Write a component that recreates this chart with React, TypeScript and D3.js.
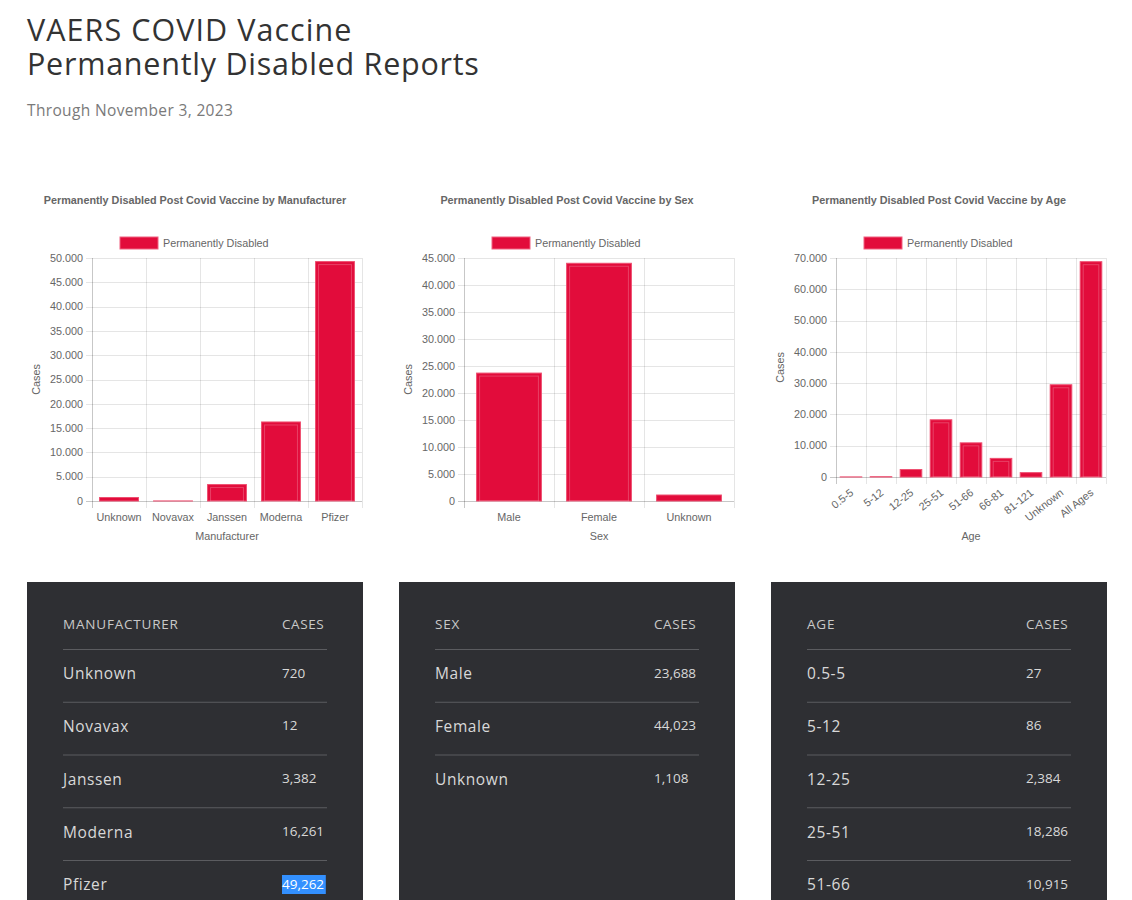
import React from 'react'
import * as d3 from 'd3'

// values
const manufacturers = ['Unknown', 'Novavax', 'Janssen', 'Moderna', 'Pfizer']
const manufacturerCases = [720, 12, 3382, 16261, 49262]

const sexes = ['Male', 'Female', 'Unknown']
const sexCases = [23688, 44023, 1108]

const ageGroups = ['0.5-5', '5-12', '12-25', '25-51', '51-66', '66-81', '81-121', 'Unknown', 'All Ages']
const ageCases = [27, 86, 2384, 18286, 10915, 5950, 1390, 29480, 68819]

const seriesName = 'Permanently Disabled'

const W = 1132
const H = 900

const chartFont = '"Liberation Sans", Arial, sans-serif'
const pageFont = '"Open Sans", "Noto Sans", sans-serif'
const gridColor = 'rgba(0,0,0,0.1)'
const barColor = '#e20c3b'

const dotLocale = d3.formatLocale({ decimal: ',', thousands: '.', grouping: [3], currency: ['', ''] })
const tickFmt = dotLocale.format(',d')
const tableFmt = d3.format(',d')

type ChartProps = {
  title: string;
  xTitle: string;
  categories: string[];
  values: number[];
  panelX: number;
  x0: number;
  x1: number;
  y0: number;
  y1: number;
  tickCount: number;
  rotate?: boolean;
}

const panelW = 336

const BarChart = ({ title, xTitle, categories, values, panelX, x0, x1, y0, y1, tickCount, rotate }: ChartProps) => {
  const x = d3.scaleBand().domain(categories).range([x0, x1]).paddingInner(0).paddingOuter(0)
  const y = d3.scaleLinear().domain([0, d3.max(values) as number]).nice(tickCount).range([y1, y0])
  const ticks = y.ticks(tickCount)
  const cx = panelX + panelW / 2
  const bw = x.bandwidth() * 0.72
  const bounds = categories.map((c) => x(c) as number).concat([x1])

  return (
    <g fontFamily={chartFont}>
      <text x={cx} y={204} textAnchor='middle' fontSize={10.8} fontWeight='bold' fill='#666'>{title}</text>

      {/* legend */}
      <rect x={cx - 75} y={237} width={38} height={12} fill={barColor} stroke='#f06080' strokeWidth={1} />
      <text x={cx - 32} y={247} fontSize={10.8} fill='#666'>{seriesName}</text>

      {/* horizontal grid */}
      {ticks.map((t) => (
        <g key={`h${t}`}>
          <line x1={x0 - 6} x2={x1} y1={Math.round(y(t)) + 0.5} y2={Math.round(y(t)) + 0.5}
            stroke={t === 0 ? 'rgba(0,0,0,0.22)' : gridColor} />
          <text x={x0 - 9} y={y(t)} dy='0.35em' textAnchor='end' fontSize={10.8} fill='#666'>{tickFmt(t)}</text>
        </g>
      ))}

      {/* vertical grid */}
      {bounds.map((b, i) => (
        <line key={`v${i}`} x1={Math.round(b) + 0.5} x2={Math.round(b) + 0.5} y1={y0} y2={y1 + 7}
          stroke={i === 0 ? 'rgba(0,0,0,0.22)' : gridColor} />
      ))}

      {/* bars */}
      {categories.map((c, i) => {
        const bx = (x(c) as number) + (x.bandwidth() - bw) / 2
        const by = y(values[i])
        const bh = y1 - by
        return (
          <g key={c}>
            <rect x={bx} y={by} width={bw} height={bh} fill={barColor} stroke='#ee4f70' strokeWidth={1} />
            {bh > 8 && (
              <rect x={bx + 3} y={by + 3} width={bw - 6} height={bh - 3} fill='none'
                stroke='rgba(255,255,255,0.22)' strokeWidth={1} />
            )}
          </g>
        )
      })}

      {/* category labels */}
      {categories.map((c) => {
        const mx = (x(c) as number) + x.bandwidth() / 2
        return rotate
          ? (
            <text key={`l${c}`} transform={`translate(${mx + 1}, ${y1 + 14}) rotate(-38)`} textAnchor='end'
              dy='0.35em' fontSize={10.8} fill='#666'>{c}</text>
            )
          : (
            <text key={`l${c}`} x={mx} y={y1 + 20} textAnchor='middle' fontSize={10.8} fill='#666'>{c}</text>
            )
      })}

      <text x={(x0 + x1) / 2} y={540} textAnchor='middle' fontSize={10.8} fill='#666'>{xTitle}</text>
      <text transform={`translate(${x0 - 52}, ${(y0 + y1) / 2}) rotate(-90)`} textAnchor='middle'
        fontSize={10.8} fill='#666'>Cases</text>
    </g>
  )
}

type TableProps = {
  left: number;
  header: string;
  labels: string[];
  values: number[];
  highlight?: number;
}

const rowGap = 52.75

const DataTable = ({ left, header, labels, values, highlight }: TableProps) => {
  const tx = left + 36
  const nx = left + 255
  const right = left + 300
  return (
    <g fontFamily={pageFont}>
      <rect x={left} y={582} width={panelW} height={H - 582} fill='#2e2f33' />
      <text x={tx} y={629} fontSize={13.5} letterSpacing={0.8} fill='#c9c9c9'>{header}</text>
      <text x={nx} y={629} fontSize={13.5} letterSpacing={0.6} fill='#c9c9c9'>CASES</text>
      {labels.map((l, i) => {
        const lineY = 649.5 + i * rowGap
        const cy = 674 + i * rowGap
        const label = tableFmt(values[i])
        return (
          <g key={l}>
            <line x1={tx} x2={right} y1={lineY} y2={lineY} stroke='#5b5c60' />
            {highlight === i && (
              <rect x={nx} y={cy - 10} width={label.length * 7.3} height={19} fill='#3390ff' />
            )}
            <text x={tx} y={cy} dy='0.35em' fontSize={15.5} letterSpacing={0.6} fill='#d8d8d8'>{l}</text>
            <text x={nx} y={cy - 1} dy='0.35em' fontSize={13.5} fill={highlight === i ? '#fff' : '#d8d8d8'}>{label}</text>
          </g>
        )
      })}
    </g>
  )
}

const App = () => {
  return (
    <svg width={W} height={H} viewBox={`0 0 ${W} ${H}`}
      style={{ position: 'absolute', left: 0, top: 0, background: '#fff' }}>
      <g fontFamily={pageFont}>
        <text x={27} y={41} fontSize={30.5} letterSpacing={1.05} fill='#333'>VAERS COVID Vaccine</text>
        <text x={27} y={75} fontSize={30.5} letterSpacing={0.75} fill='#333'>Permanently Disabled Reports</text>
        <text x={27} y={116} fontSize={15.5} letterSpacing={0.35} fill='#7a7a7a'>Through November 3, 2023</text>
      </g>

      <BarChart title='Permanently Disabled Post Covid Vaccine by Manufacturer' xTitle='Manufacturer'
        categories={manufacturers} values={manufacturerCases} panelX={27}
        x0={92} x1={362} y0={258} y1={501} tickCount={10} />
      <BarChart title='Permanently Disabled Post Covid Vaccine by Sex' xTitle='Sex'
        categories={sexes} values={sexCases} panelX={399}
        x0={464} x1={734} y0={258} y1={501} tickCount={9} />
      <BarChart title='Permanently Disabled Post Covid Vaccine by Age' xTitle='Age'
        categories={ageGroups} values={ageCases} panelX={771}
        x0={836} x1={1106} y0={258} y1={477} tickCount={7} rotate />

      <DataTable left={27} header='MANUFACTURER' labels={manufacturers} values={manufacturerCases} highlight={4} />
      <DataTable left={399} header='SEX' labels={sexes} values={sexCases} />
      <DataTable left={771} header='AGE' labels={ageGroups.slice(0, 5)} values={ageCases.slice(0, 5)} />
    </svg>
  )
}

export default App
